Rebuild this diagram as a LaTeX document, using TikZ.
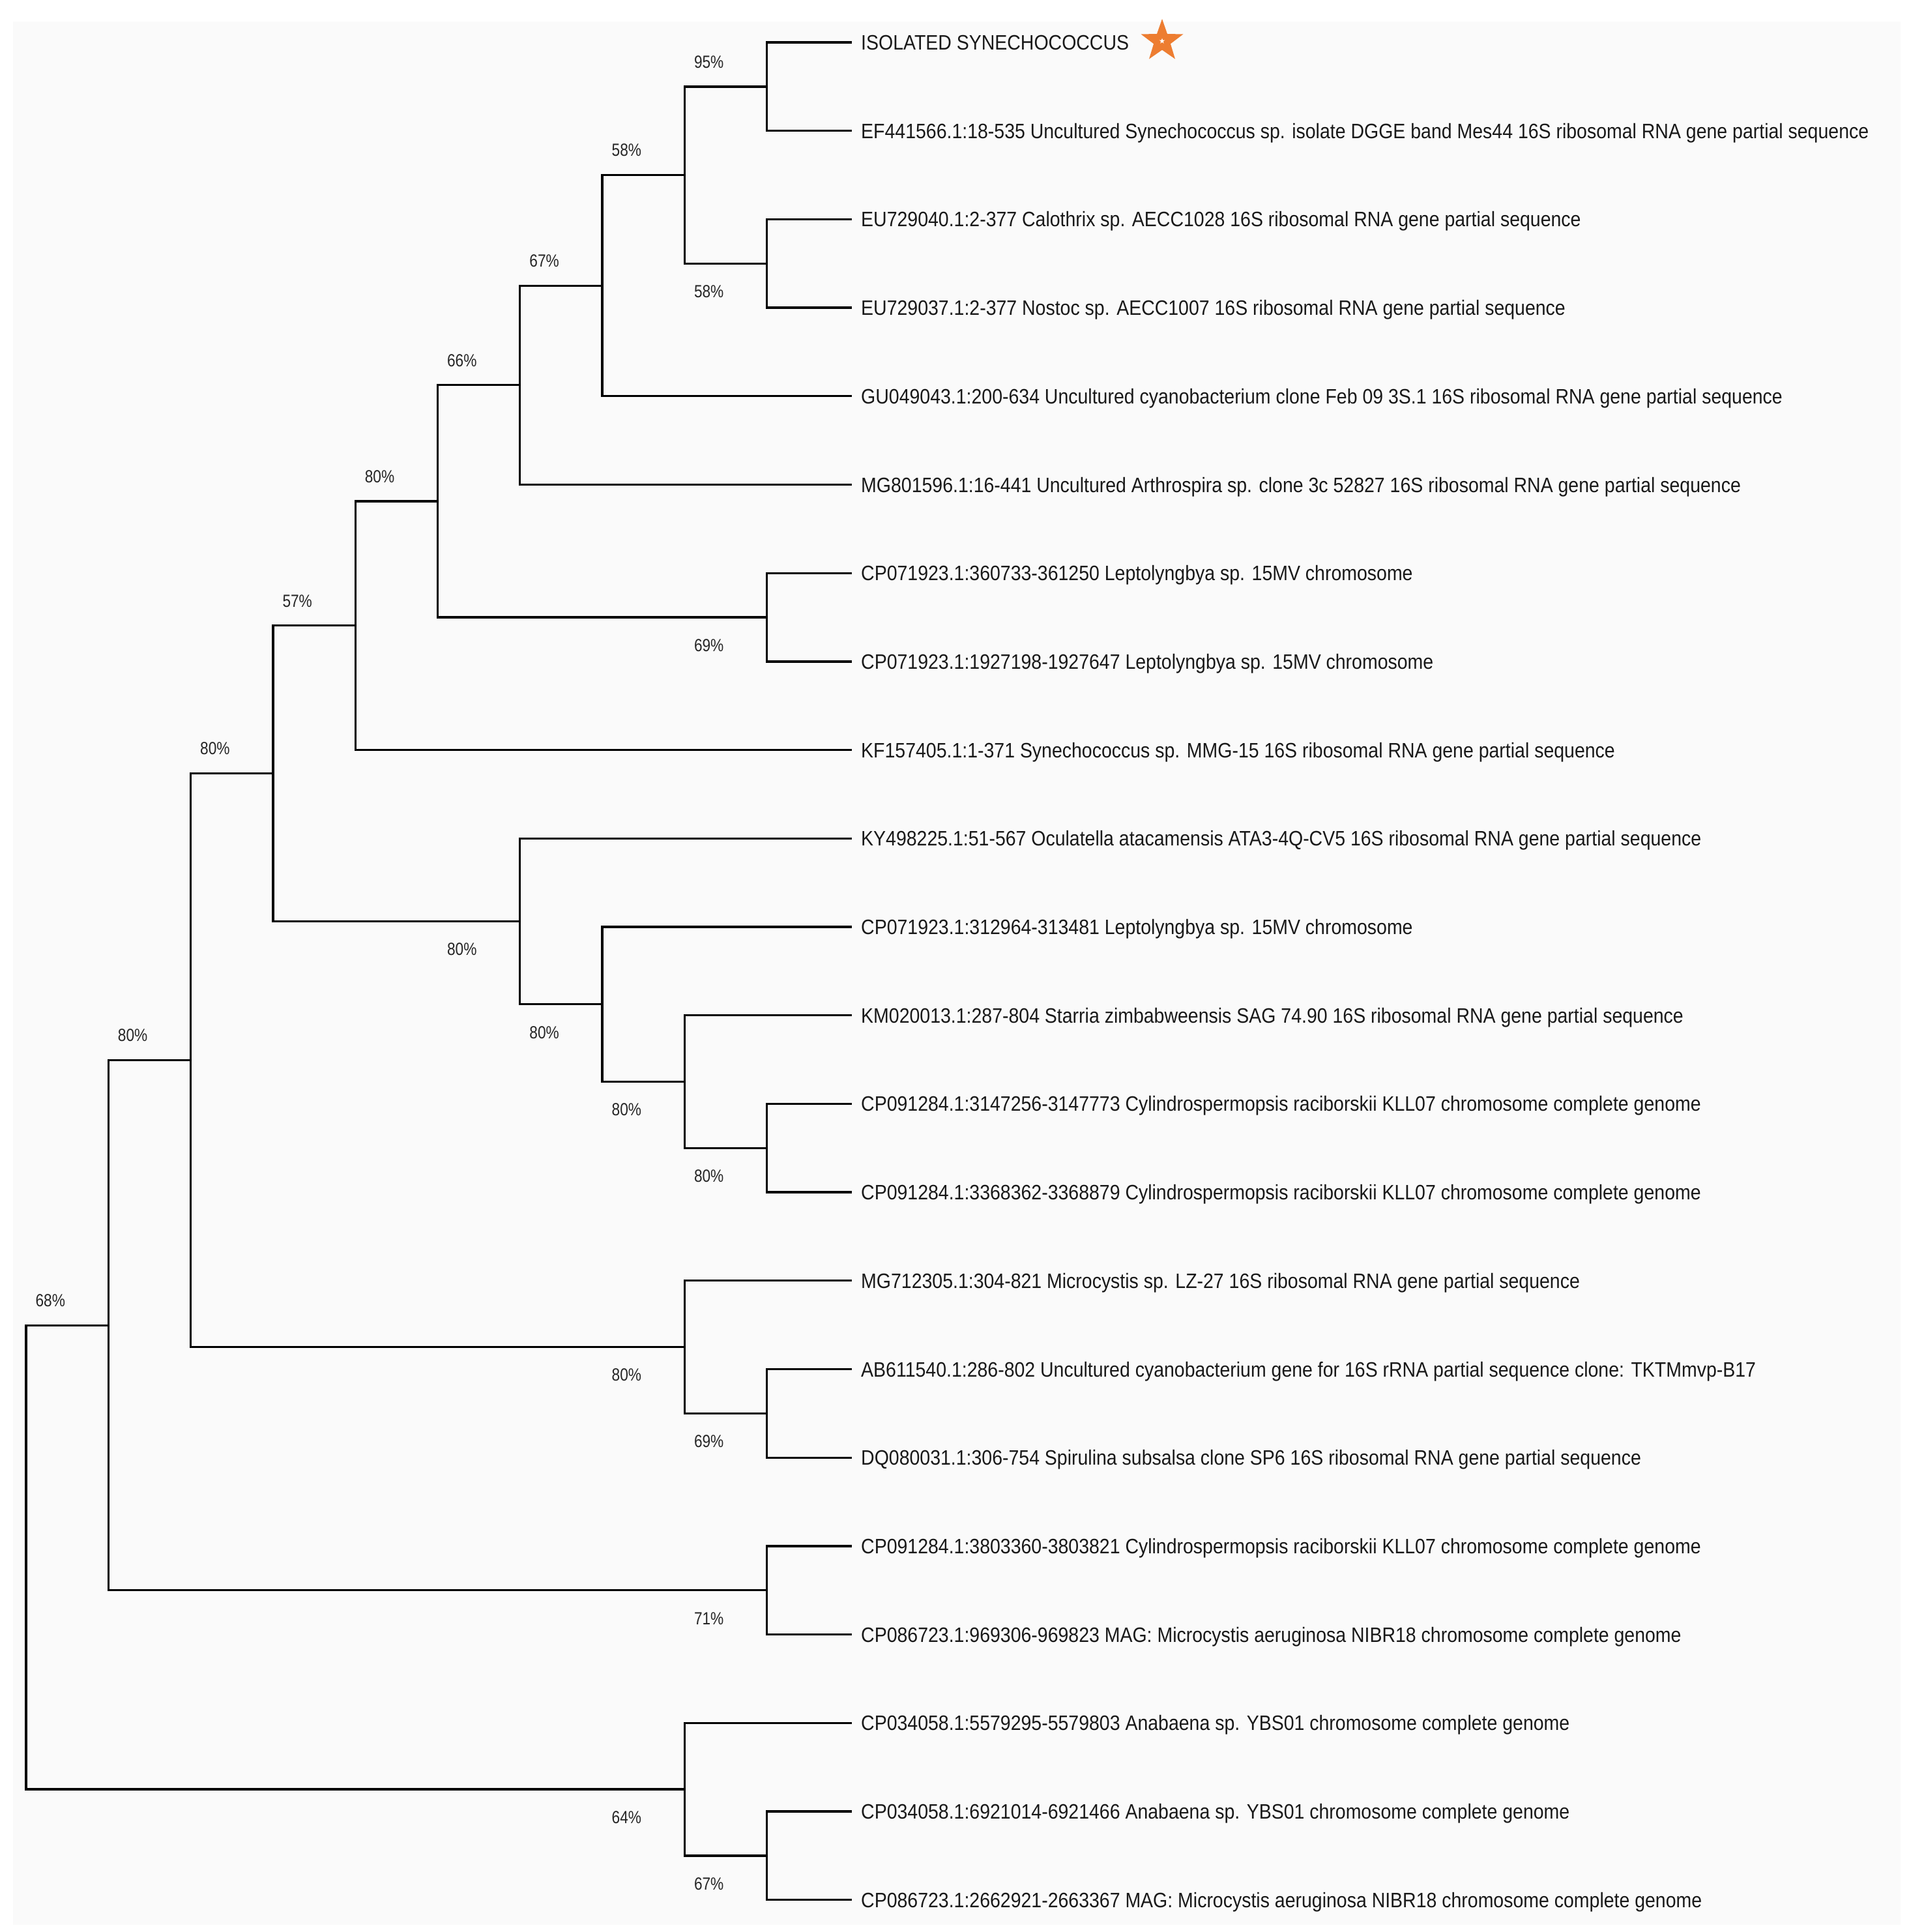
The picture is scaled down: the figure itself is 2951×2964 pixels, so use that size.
\documentclass[tikz,border=0pt]{standalone}
\usepackage{fontspec}
\setmainfont{Liberation Sans}[FakeStretch=0.89]
\newfontfamily\supfont{Liberation Sans}[FakeStretch=0.84]
\usetikzlibrary{shapes.geometric}
\definecolor{bgpanel}{HTML}{FAFAFA}
\definecolor{starorange}{HTML}{ED7D31}
\begin{document}
\begin{tikzpicture}[x=1pt,y=-1pt,
  br/.style={line width=3.3pt, black},
  leaf/.style={anchor=base west, inner sep=0pt, font=\fontsize{32}{36}\selectfont, text=black!90},
  lbl/.style={anchor=center, inner sep=0pt, font=\supfont\fontsize{27}{30}\selectfont, text=black!85},
  starmark/.style={star, star points=5, star point ratio=2.5, inner sep=0pt, draw=none}]
\useasboundingbox (0,0) rectangle (2951,2964);
\fill[white] (0,0) rectangle (2951,2964);
\fill[bgpanel] (20,33) rectangle (2916,2953);

% leaf ends
\coordinate (L0) at (1307,65);
\coordinate (L1) at (1307,200.7);
\coordinate (L2) at (1307,336.4);
\coordinate (L3) at (1307,472.1);
\coordinate (L4) at (1307,607.8);
\coordinate (L5) at (1307,743.5);
\coordinate (L6) at (1307,879.2);
\coordinate (L7) at (1307,1014.9);
\coordinate (L8) at (1307,1150.6);
\coordinate (L9) at (1307,1286.3);
\coordinate (L10) at (1307,1422);
\coordinate (L11) at (1307,1557.7);
\coordinate (L12) at (1307,1693.4);
\coordinate (L13) at (1307,1829.1);
\coordinate (L14) at (1307,1964.8);
\coordinate (L15) at (1307,2100.5);
\coordinate (L16) at (1307,2236.2);
\coordinate (L17) at (1307,2371.9);
\coordinate (L18) at (1307,2507.6);
\coordinate (L19) at (1307,2643.3);
\coordinate (L20) at (1307,2779);
\coordinate (L21) at (1307,2914.7);

% internal nodes
\coordinate (n95)  at (1176.7,132.85);
\coordinate (n58b) at (1176.7,404.25);
\coordinate (n58a) at (1050.4,268.55);
\coordinate (n67)  at (924.1,438.18);
\coordinate (n66)  at (797.8,590.84);
\coordinate (n69a) at (1176.7,947.05);
\coordinate (n80a) at (671.5,768.94);
\coordinate (n57)  at (545.2,959.77);
\coordinate (n80e) at (1176.7,1761.25);
\coordinate (n80d) at (1050.4,1659.48);
\coordinate (n80c) at (924.1,1540.74);
\coordinate (n80b) at (797.8,1413.52);
\coordinate (n80f) at (418.9,1186.65);
\coordinate (n69b) at (1176.7,2168.35);
\coordinate (n80g) at (1050.4,2066.58);
\coordinate (n80h) at (292.6,1626.6);
\coordinate (n71)  at (1176.7,2439.75);
\coordinate (n68)  at (166.3,2033.2);
\coordinate (n67c) at (1176.7,2846.85);
\coordinate (n64)  at (1050.4,2745.1);
\coordinate (root) at (40,2389.15);

% branches
\draw[br] (n95) |- (L0);  \draw[br] (n95) |- (L1);
\draw[br] (n58b) |- (L2); \draw[br] (n58b) |- (L3);
\draw[br] (n58a) |- (n95); \draw[br] (n58a) |- (n58b);
\draw[br] (n67) |- (n58a); \draw[br] (n67) |- (L4);
\draw[br] (n66) |- (n67); \draw[br] (n66) |- (L5);
\draw[br] (n69a) |- (L6); \draw[br] (n69a) |- (L7);
\draw[br] (n80a) |- (n66); \draw[br] (n80a) |- (n69a);
\draw[br] (n57) |- (n80a); \draw[br] (n57) |- (L8);
\draw[br] (n80e) |- (L12); \draw[br] (n80e) |- (L13);
\draw[br] (n80d) |- (L11); \draw[br] (n80d) |- (n80e);
\draw[br] (n80c) |- (L10); \draw[br] (n80c) |- (n80d);
\draw[br] (n80b) |- (L9); \draw[br] (n80b) |- (n80c);
\draw[br] (n80f) |- (n57); \draw[br] (n80f) |- (n80b);
\draw[br] (n69b) |- (L15); \draw[br] (n69b) |- (L16);
\draw[br] (n80g) |- (L14); \draw[br] (n80g) |- (n69b);
\draw[br] (n80h) |- (n80f); \draw[br] (n80h) |- (n80g);
\draw[br] (n71) |- (L17); \draw[br] (n71) |- (L18);
\draw[br] (n68) |- (n80h); \draw[br] (n68) |- (n71);
\draw[br] (n67c) |- (L20); \draw[br] (n67c) |- (L21);
\draw[br] (n64) |- (L19); \draw[br] (n64) |- (n67c);
\draw[br] (root) |- (n68); \draw[br] (root) |- (n64);

% support values
\path (n95)  ++(-89,-38) node[lbl] {95\%};
\path (n58a) ++(-89,-38) node[lbl] {58\%};
\path (n58b) ++(-89,43)  node[lbl] {58\%};
\path (n67)  ++(-89,-38) node[lbl] {67\%};
\path (n66)  ++(-89,-38) node[lbl] {66\%};
\path (n80a) ++(-89,-38) node[lbl] {80\%};
\path (n69a) ++(-89,43)  node[lbl] {69\%};
\path (n57)  ++(-89,-38) node[lbl] {57\%};
\path (n80f) ++(-89,-38) node[lbl] {80\%};
\path (n80b) ++(-89,43)  node[lbl] {80\%};
\path (n80c) ++(-89,43)  node[lbl] {80\%};
\path (n80d) ++(-89,43)  node[lbl] {80\%};
\path (n80e) ++(-89,43)  node[lbl] {80\%};
\path (n80h) ++(-89,-38) node[lbl] {80\%};
\path (n80g) ++(-89,43)  node[lbl] {80\%};
\path (n69b) ++(-89,43)  node[lbl] {69\%};
\path (n68)  ++(-89,-38) node[lbl] {68\%};
\path (n71)  ++(-89,43)  node[lbl] {71\%};
\path (n64)  ++(-89,43)  node[lbl] {64\%};
\path (n67c) ++(-89,43)  node[lbl] {67\%};

% leaf labels
\node[leaf] (t0)  at ([xshift=14pt,yshift=-11.5pt]L0)  {ISOLATED SYNECHOCOCCUS};
\node[leaf] (t1)  at ([xshift=14pt,yshift=-11.5pt]L1)  {EF441566.1:18-535 Uncultured Synechococcus sp. isolate DGGE band Mes44 16S ribosomal RNA gene partial sequence};
\node[leaf] (t2)  at ([xshift=14pt,yshift=-11.5pt]L2)  {EU729040.1:2-377 Calothrix sp. AECC1028 16S ribosomal RNA gene partial sequence};
\node[leaf] (t3)  at ([xshift=14pt,yshift=-11.5pt]L3)  {EU729037.1:2-377 Nostoc sp. AECC1007 16S ribosomal RNA gene partial sequence};
\node[leaf] (t4)  at ([xshift=14pt,yshift=-11.5pt]L4)  {GU049043.1:200-634 Uncultured cyanobacterium clone Feb 09 3S.1 16S ribosomal RNA gene partial sequence};
\node[leaf] (t5)  at ([xshift=14pt,yshift=-11.5pt]L5)  {MG801596.1:16-441 Uncultured Arthrospira sp. clone 3c 52827 16S ribosomal RNA gene partial sequence};
\node[leaf] (t6)  at ([xshift=14pt,yshift=-11.5pt]L6)  {CP071923.1:360733-361250 Leptolyngbya sp. 15MV chromosome};
\node[leaf] (t7)  at ([xshift=14pt,yshift=-11.5pt]L7)  {CP071923.1:1927198-1927647 Leptolyngbya sp. 15MV chromosome};
\node[leaf] (t8)  at ([xshift=14pt,yshift=-11.5pt]L8)  {KF157405.1:1-371 Synechococcus sp. MMG-15 16S ribosomal RNA gene partial sequence};
\node[leaf] (t9)  at ([xshift=14pt,yshift=-11.5pt]L9)  {KY498225.1:51-567 Oculatella atacamensis ATA3-4Q-CV5 16S ribosomal RNA gene partial sequence};
\node[leaf] (t10) at ([xshift=14pt,yshift=-11.5pt]L10) {CP071923.1:312964-313481 Leptolyngbya sp. 15MV chromosome};
\node[leaf] (t11) at ([xshift=14pt,yshift=-11.5pt]L11) {KM020013.1:287-804 Starria zimbabweensis SAG 74.90 16S ribosomal RNA gene partial sequence};
\node[leaf] (t12) at ([xshift=14pt,yshift=-11.5pt]L12) {CP091284.1:3147256-3147773 Cylindrospermopsis raciborskii KLL07 chromosome complete genome};
\node[leaf] (t13) at ([xshift=14pt,yshift=-11.5pt]L13) {CP091284.1:3368362-3368879 Cylindrospermopsis raciborskii KLL07 chromosome complete genome};
\node[leaf] (t14) at ([xshift=14pt,yshift=-11.5pt]L14) {MG712305.1:304-821 Microcystis sp. LZ-27 16S ribosomal RNA gene partial sequence};
\node[leaf] (t15) at ([xshift=14pt,yshift=-11.5pt]L15) {AB611540.1:286-802 Uncultured cyanobacterium gene for 16S rRNA partial sequence clone: TKTMmvp-B17};
\node[leaf] (t16) at ([xshift=14pt,yshift=-11.5pt]L16) {DQ080031.1:306-754 Spirulina subsalsa clone SP6 16S ribosomal RNA gene partial sequence};
\node[leaf] (t17) at ([xshift=14pt,yshift=-11.5pt]L17) {CP091284.1:3803360-3803821 Cylindrospermopsis raciborskii KLL07 chromosome complete genome};
\node[leaf] (t18) at ([xshift=14pt,yshift=-11.5pt]L18) {CP086723.1:969306-969823 MAG: Microcystis aeruginosa NIBR18 chromosome complete genome};
\node[leaf] (t19) at ([xshift=14pt,yshift=-11.5pt]L19) {CP034058.1:5579295-5579803 Anabaena sp. YBS01 chromosome complete genome};
\node[leaf] (t20) at ([xshift=14pt,yshift=-11.5pt]L20) {CP034058.1:6921014-6921466 Anabaena sp. YBS01 chromosome complete genome};
\node[leaf] (t21) at ([xshift=14pt,yshift=-11.5pt]L21) {CP086723.1:2662921-2663367 MAG: Microcystis aeruginosa NIBR18 chromosome complete genome};

% star marker
\node[starmark, fill=starorange, minimum size=68pt] (star) at (1783,63) {};
\node[starmark, fill=white, minimum size=9pt] (starcore) at (star.center) {};
\end{tikzpicture}
\end{document}
